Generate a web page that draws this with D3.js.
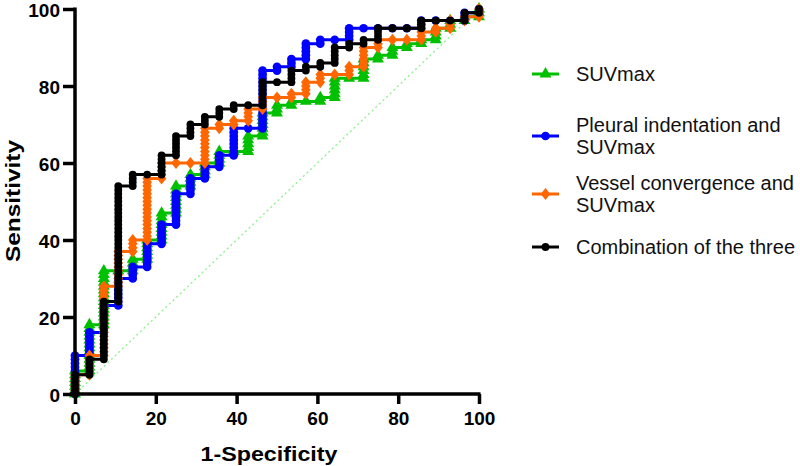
<!DOCTYPE html>
<html>
<head>
<meta charset="utf-8">
<script src="https://cdn.jsdelivr.net/npm/d3@7"></script>
<style>
  html, body { margin: 0; padding: 0; background: #fff; }
  svg { display: block; }
</style>
</head>
<body>
<svg id="chart" width="800" height="466"></svg>
<script>
// ---- Data (percent). Each column: [1-Specificity, [Sensitivity values at that column]] ----
const xTicks = [0, 20, 40, 60, 80, 100];
const yTicks = [0, 20, 40, 60, 80, 100];
const xTitle = "1-Specificity";
const yTitle = "Sensitivity";

const suvmax = [
  [0, [0,1,2,3,4,5,6]],
  [3.57, [6,7,8,9,10,11,12,13,14,15,16,17,18]],
  [7.14, [18,19,20,21,22,23,24,25,26,27,28,29,30,31,32]],
  [10.71, [32]],
  [14.29, [32,33,34,35]],
  [17.86, [35,36,37,38,39,40]],
  [21.43, [40,41,42,43,44,45,46,47]],
  [25, [47,48,49,50,51,52,53,54]],
  [28.57, [54,55,56,57]],
  [32.14, [57,58,59,60]],
  [35.71, [60,61,62,63]],
  [39.29, [63]],
  [42.86, [63,64,65,66,67]],
  [46.43, [67,68,69,70,71,72,73]],
  [50, [73,74,75]],
  [53.57, [75,76]],
  [57.14, [76]],
  [60.71, [76,77]],
  [64.29, [77,78,79,80,81,82]],
  [67.86, [82]],
  [71.43, [82,83,84,85,86,87]],
  [75, [87,88]],
  [78.57, [88,89,90]],
  [82.14, [90,91]],
  [85.71, [91,92]],
  [89.29, [92,93,94,95]],
  [92.86, [95,96,97]],
  [96.43, [97,98]],
  [100, [98,99,100]]
];

const pleural = [
  [0, [0,1,2,3,4,5,6,7,8,9,10]],
  [3.57, [10,11,12,13,14,15,16]],
  [7.14, [16,17,18,19,20,21,22,23]],
  [10.71, [23,24,25,26,27,28,29,30]],
  [14.29, [30,31,32,33]],
  [17.86, [33,34,35,36,37,38,39]],
  [21.43, [39,40,41,42,43,44]],
  [25, [44,45,46,47,48,49,50,51,52]],
  [28.57, [52,53,54,55,56]],
  [32.14, [56,57,58,59]],
  [35.71, [59,60,61,62]],
  [39.29, [62,63,64,65,66,67,68,69]],
  [42.86, [69]],
  [46.43, [69,70,71,72,73,74,75,76,77,78,79,80,81,82,83,84]],
  [50, [84,85]],
  [53.57, [85,86,87]],
  [57.14, [87,88,89,90,91]],
  [60.71, [91,92]],
  [64.29, [92]],
  [67.86, [92,93,94,95]],
  [71.43, [95]],
  [75, [95]],
  [78.57, [95]],
  [82.14, [95]],
  [85.71, [95,96,97]],
  [89.29, [97]],
  [92.86, [97]],
  [96.43, [97,98,99]],
  [100, [99,100]]
];

const vessel = [
  [0, [0,1,2,3,4,5]],
  [3.57, [5,6,7,8,9,10]],
  [7.14, [10,11,12,13,14,15,16,17,18,19,20,21,22,23,24,25,26,27,28]],
  [10.71, [28,29,30,31,32,33,34,35,36,37]],
  [14.29, [37,38,39,40]],
  [17.86, [40,41,42,43,44,45,46,47,48,49,50,51,52,53,54,55,56]],
  [21.43, [56,57,58,59,60]],
  [25, [60]],
  [28.57, [60]],
  [32.14, [60,61,62,63,64,65,66,67,68,69]],
  [35.71, [69,70]],
  [39.29, [70,71]],
  [42.86, [71,72,73,74]],
  [46.43, [74,75,76,77]],
  [50, [77]],
  [53.57, [77,78]],
  [57.14, [78,79,80,81]],
  [60.71, [81,82,83]],
  [64.29, [83]],
  [67.86, [83,84,85]],
  [71.43, [85,86,87,88,89,90]],
  [75, [90,91,92]],
  [78.57, [92]],
  [82.14, [92]],
  [85.71, [92,93,94]],
  [89.29, [94,95]],
  [92.86, [95,96,97]],
  [96.43, [97,98]],
  [100, [98,99,100]]
];

const combination = [
  [0, [0,1,2,3,4,5]],
  [3.57, [5,6,7,8,9]],
  [7.14, [9,10,11,12,13,14,15,16,17,18,19,20,21,22,23,24]],
  [10.71, [24,25,26,27,28,29,30,31,32,33,34,35,36,37,38,39,40,41,42,43,44,45,46,47,48,49,50,51,52,53,54]],
  [14.29, [54,55,56,57]],
  [17.86, [57]],
  [21.43, [57,58,59,60,61,62]],
  [25, [62,63,64,65,66,67]],
  [28.57, [67,68,69,70]],
  [32.14, [70,71,72]],
  [35.71, [72,73,74]],
  [39.29, [74,75]],
  [42.86, [75]],
  [46.43, [75,76,77,78,79,80,81]],
  [50, [81]],
  [53.57, [81,82,83,84]],
  [57.14, [84,85]],
  [60.71, [85,86]],
  [64.29, [86,87,88,89,90]],
  [67.86, [90,91]],
  [71.43, [91,92]],
  [75, [92,93,94,95]],
  [78.57, [95]],
  [82.14, [95]],
  [85.71, [95,96,97]],
  [89.29, [97]],
  [92.86, [97]],
  [96.43, [97,98,99]],
  [100, [99,100]]
];

const seriesNames = ["SUVmax", "Pleural indentation and SUVmax", "Vessel convergence and SUVmax", "Combination of the three"];
const seriesColors = ["#00c000", "#0000ff", "#ff6600", "#000000"];
const seriesShapes = ["triangle", "circle", "diamond", "circleSmall"];
const seriesData = [suvmax, pleural, vessel, combination];

// ---- Layout ----
const svg = d3.select("#chart");
const x = d3.scaleLinear().domain([0, 100]).range([75, 479]);
const y = d3.scaleLinear().domain([0, 100]).range([394, 9]);

function toPoints(cols) {
  const pts = [];
  cols.forEach(([fx, ys]) => ys.forEach(v => pts.push([fx, v])));
  return pts;
}

const symbolFor = {
  triangle: d3.symbol().type(d3.symbolTriangle).size(62),
  circle: d3.symbol().type(d3.symbolCircle).size(60),
  diamond: () => "M0,-6L4.8,0L0,6L-4.8,0Z",
  circleSmall: d3.symbol().type(d3.symbolCircle).size(48)
};

// diagonal reference line
svg.append("line")
  .attr("x1", x(0)).attr("y1", y(0)).attr("x2", x(100)).attr("y2", y(100))
  .attr("stroke", "#9af09a").attr("stroke-width", 1.5).attr("stroke-dasharray", "2,3");

const line = d3.line().x(d => x(d[0])).y(d => y(d[1]));

seriesData.forEach((cols, i) => {
  const pts = toPoints(cols);
  const g = svg.append("g");
  g.append("path").attr("d", line(pts)).attr("fill", "none")
    .attr("stroke", seriesColors[i]).attr("stroke-width", 3);
  g.selectAll("path.m").data(pts).enter().append("path").attr("class", "m")
    .attr("d", symbolFor[seriesShapes[i]])
    .attr("transform", d => `translate(${x(d[0])},${y(d[1])})`)
    .attr("fill", seriesColors[i]);
});

// ---- Axes ----
const xAxis = svg.append("g").attr("transform", "translate(0,394)")
  .call(d3.axisBottom(x).tickValues(xTicks).tickSize(10).tickSizeOuter(0).tickPadding(8));
const yAxis = svg.append("g").attr("transform", "translate(75,0)")
  .call(d3.axisLeft(y).tickValues(yTicks).tickSize(12).tickSizeOuter(0).tickPadding(3));

[xAxis, yAxis].forEach(a => {
  a.select(".domain").attr("stroke", "#000").attr("stroke-width", 3.5);
  a.selectAll(".tick line").attr("stroke", "#000").attr("stroke-width", 3.5);
  a.selectAll(".tick text").attr("fill", "#000")
    .style("font-family", "'Liberation Sans', Arial, sans-serif")
    .style("font-weight", "bold").style("font-size", "19px");
});
yAxis.selectAll(".tick text").attr("dy", "0.4em");
xAxis.select(".domain").attr("d", `M70,0H${479 + 1.5}`);
yAxis.select(".domain").attr("d", `M0,394V${9 - 1.5}`);

svg.append("text").attr("x", 269).attr("y", 461).attr("text-anchor", "middle")
  .attr("textLength", 137).attr("lengthAdjust", "spacingAndGlyphs")
  .style("font-family", "'Liberation Sans', Arial, sans-serif").style("font-weight", "bold").style("font-size", "20px")
  .text(xTitle);
svg.append("text").attr("transform", "translate(20,201) rotate(-90)").attr("text-anchor", "middle")
  .attr("textLength", 122).attr("lengthAdjust", "spacingAndGlyphs")
  .style("font-family", "'Liberation Sans', Arial, sans-serif").style("font-weight", "bold").style("font-size", "20px")
  .text(yTitle);

// ---- Legend ----
const legendItems = [
  { lines: ["SUVmax"], y: 74 },
  { lines: ["Pleural indentation and", "SUVmax"], y: 136 },
  { lines: ["Vessel convergence and", "SUVmax"], y: 194 },
  { lines: ["Combination of the three"], y: 247 }
];
legendItems.forEach((it, i) => {
  const g = svg.append("g");
  g.append("line").attr("x1", 532).attr("x2", 559).attr("y1", it.y).attr("y2", it.y)
    .attr("stroke", seriesColors[i]).attr("stroke-width", 3);
  g.append("path").attr("d", symbolFor[seriesShapes[i]])
    .attr("transform", `translate(545.5,${it.y})`)
    .attr("fill", seriesColors[i]);
  const t = g.append("text").attr("x", 576)
    .style("font-family", "'Liberation Sans', Arial, sans-serif").style("font-size", "20px").attr("fill", "#111");
  const n = it.lines.length;
  it.lines.forEach((s, j) => {
    t.append("tspan").attr("x", 576).attr("y", it.y + 7 + (j - (n - 1) / 2) * 21.5).text(s);
  });
});
</script>
</body>
</html>
